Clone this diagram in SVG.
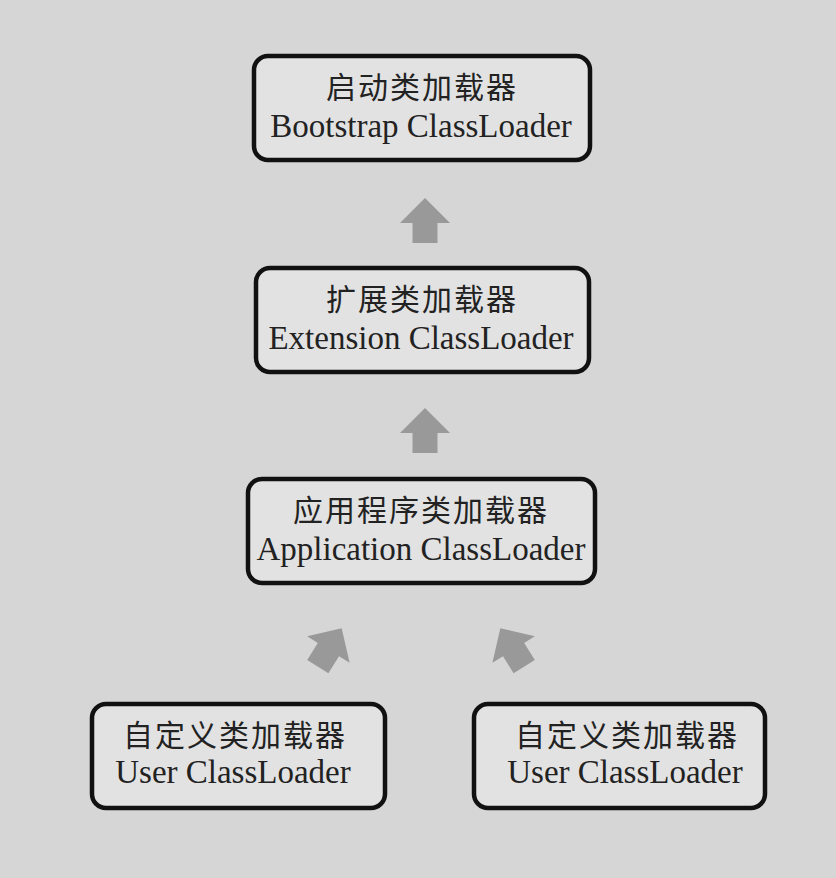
<svg xmlns="http://www.w3.org/2000/svg" width="836" height="878" viewBox="0 0 836 878">
<style>
.box{fill:#e2e2e2;stroke:#111;stroke-width:4.5}
.cn{font-family:"Noto Sans CJK SC","Noto Sans CJK JP",sans-serif;font-size:30px;fill:#222;text-anchor:middle;letter-spacing:2px}
.en{font-family:"Liberation Serif","Times New Roman",serif;font-size:33px;fill:#222;text-anchor:middle}
.arr{fill:#999}
</style>
<defs>
<path id="up" d="M0,-22 L25,3 L12.5,3 L12.5,23 L-12.5,23 L-12.5,3 L-25,3 Z"/>
</defs>
<rect x="0" y="0" width="836" height="878" fill="#d6d6d6"/>
<g id="connectors" class="arr">
<use href="#up" transform="translate(425,220)"/>
<use href="#up" transform="translate(425,430)"/>
<use href="#up" transform="translate(330,647) rotate(32)"/>
<use href="#up" transform="translate(512,647) rotate(-32)"/>
</g>
<g id="bootstrap">
<rect class="box" x="254" y="56" width="336" height="104" rx="14"/>
<text class="cn" x="422" y="98">启动类加载器</text>
<text class="en" x="421" y="137">Bootstrap ClassLoader</text>
</g>
<g id="extension">
<rect class="box" x="256" y="268" width="333" height="104" rx="14"/>
<text class="cn" x="422" y="310">扩展类加载器</text>
<text class="en" x="421" y="349">Extension ClassLoader</text>
</g>
<g id="application">
<rect class="box" x="248" y="479" width="347" height="104" rx="14"/>
<text class="cn" x="421" y="521">应用程序类加载器</text>
<text class="en" x="421" y="560">Application ClassLoader</text>
</g>
<g id="user1">
<rect class="box" x="92" y="704" width="293" height="104" rx="14"/>
<text class="cn" x="235" y="746">自定义类加载器</text>
<text class="en" x="233" y="783">User ClassLoader</text>
</g>
<g id="user2">
<rect class="box" x="474" y="704" width="291" height="104" rx="14"/>
<text class="cn" x="627" y="746">自定义类加载器</text>
<text class="en" x="625" y="783">User ClassLoader</text>
</g>
</svg>
